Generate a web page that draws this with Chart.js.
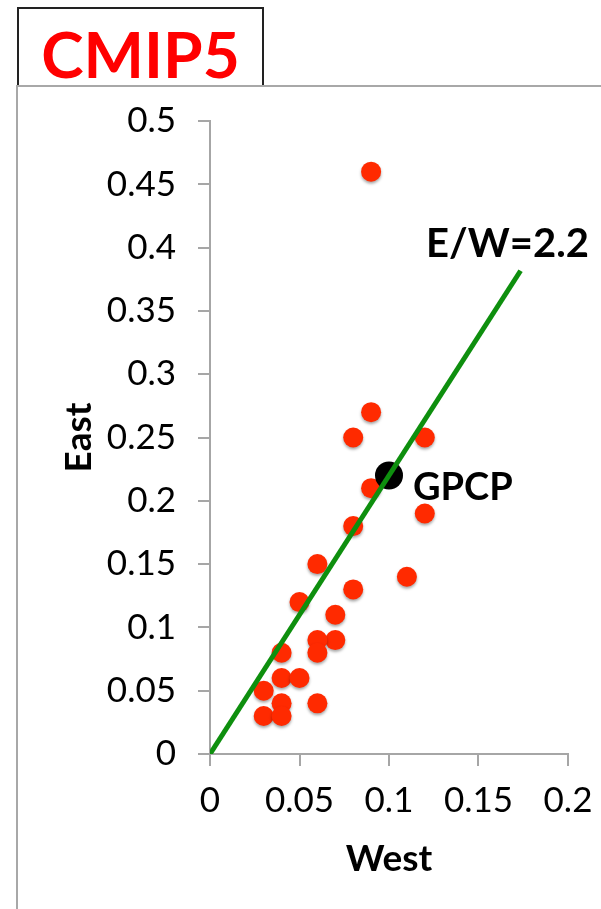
<!DOCTYPE html>
<html>
<head>
<meta charset="utf-8">
<script src="https://cdn.jsdelivr.net/npm/chart.js@4"></script>
<style>
  body { margin: 0; width: 601px; height: 909px; overflow: hidden; background: #fff; position: relative; }
  #titleBox {
    position: absolute; left: 17px; top: 7px; width: 247px; height: 100px;
    border: 2px solid #222; box-sizing: border-box;
    font: bold 64px Lato, sans-serif; color: #ff0000; text-align: center;
    line-height: 90px;
  }
  #panel {
    position: absolute; left: 16px; top: 85px; width: 700px; height: 900px;
    border: 2px solid #a8a8a8; box-sizing: border-box; background: #fff;
  }
  #chart { position: absolute; left: 0; top: 0; }
</style>
</head>
<body>
<div id="titleBox">CMIP5</div>
<div id="panel"></div>
<canvas id="chart" width="601" height="909"></canvas>
<script>
// model points (West, East)
const westVals = [0.09, 0.09, 0.08, 0.12, 0.09, 0.12, 0.08, 0.11, 0.06, 0.08, 0.05, 0.07,
                  0.07, 0.06, 0.06, 0.04, 0.04, 0.05, 0.03, 0.04, 0.06, 0.03, 0.04];
const eastVals = [0.46, 0.27, 0.25, 0.25, 0.21, 0.19, 0.18, 0.14, 0.15, 0.13, 0.12, 0.11,
                  0.09, 0.09, 0.08, 0.08, 0.06, 0.06, 0.05, 0.04, 0.04, 0.03, 0.03];
const gpcp = { x: 0.1, y: 0.22 };
const ratio = 2.2;
const lineWest = [0, 0.1735];
const xTicks = ["0", "0.05", "0.1", "0.15", "0.2"];
const yTicks = ["0", "0.05", "0.1", "0.15", "0.2", "0.25", "0.3", "0.35", "0.4", "0.45", "0.5"];

const axisGray = "#a6a6a6";
const tickFont = { family: "Lato, sans-serif", size: 35 };
const titleFont = { family: "Lato, sans-serif", size: 37, weight: "bold" };

const models = westVals.map((w, i) => ({ x: w, y: eastVals[i] }));
const fitLine = lineWest.map(w => ({ x: w, y: w * ratio }));

const labels = [
  { text: "E/W=" + ratio, x: 0.1207, y: 0.3926, size: 40 },
  { text: "GPCP", x: 0.1134, y: 0.2006, size: 38 }
];

const extras = {
  id: "extras",
  beforeDatasetDraw(chart, args) {
    if (args.index === 2) {
      const ctx = chart.ctx;
      ctx.save();
      ctx.shadowColor = "rgba(0,0,0,0.35)";
      ctx.shadowBlur = 3;
      ctx.shadowOffsetY = 2;
    }
  },
  afterDatasetDraw(chart, args) {
    if (args.index === 2) chart.ctx.restore();
  },
  afterDatasetsDraw(chart) {
    const { ctx, scales: { x, y } } = chart;
    ctx.save();
    ctx.fillStyle = "#000";
    ctx.textAlign = "left";
    ctx.textBaseline = "alphabetic";
    labels.forEach(l => {
      ctx.font = "bold " + l.size + "px Lato, sans-serif";
      ctx.fillText(l.text, x.getPixelForValue(l.x), y.getPixelForValue(l.y));
    });
    ctx.restore();
  }
};

new Chart(document.getElementById("chart"), {
  type: "scatter",
  data: {
    datasets: [
      {
        type: "line",
        data: fitLine,
        borderColor: "#0e8f0e",
        borderWidth: 5,
        pointRadius: 0,
        fill: false,
        order: 0
      },
      {
        data: [gpcp],
        backgroundColor: "#000",
        borderWidth: 0,
        pointRadius: 14,
        order: 1
      },
      {
        data: models,
        backgroundColor: "#ff2a00",
        borderWidth: 0,
        pointRadius: 10,
        order: 2
      }
    ]
  },
  options: {
    responsive: false,
    animation: false,
    layout: { padding: { top: 121, right: 33, left: 0, bottom: 0 } },
    plugins: { legend: { display: false }, tooltip: { enabled: false } },
    scales: {
      x: {
        type: "linear", min: 0, max: 0.2,
        afterFit: s => { s.height = 155; s.paddingLeft = 0; s.paddingRight = 0; },
        ticks: { stepSize: 0.05, color: "#000", font: tickFont, padding: 14,
                 callback: (v, i) => xTicks[i] },
        grid: { drawOnChartArea: false, tickLength: 12, color: axisGray, lineWidth: 2 },
        border: { color: axisGray, width: 2 },
        title: { display: true, text: "West", color: "#000", font: titleFont,
                 padding: { top: 0, bottom: 28 } }
      },
      y: {
        type: "linear", min: 0, max: 0.5,
        afterFit: s => { s.width = 210; s.paddingTop = 0; s.paddingBottom = 0; },
        ticks: { stepSize: 0.05, color: "#000", font: tickFont, padding: 22,
                 callback: (v, i) => yTicks[i] },
        grid: { drawOnChartArea: false, tickLength: 12, color: axisGray, lineWidth: 2 },
        border: { color: axisGray, width: 2 },
        title: { display: true, text: "East", color: "#000", font: titleFont,
                 padding: { top: 57, bottom: 0 } }
      }
    }
  },
  plugins: [extras]
});
</script>
</body>
</html>
